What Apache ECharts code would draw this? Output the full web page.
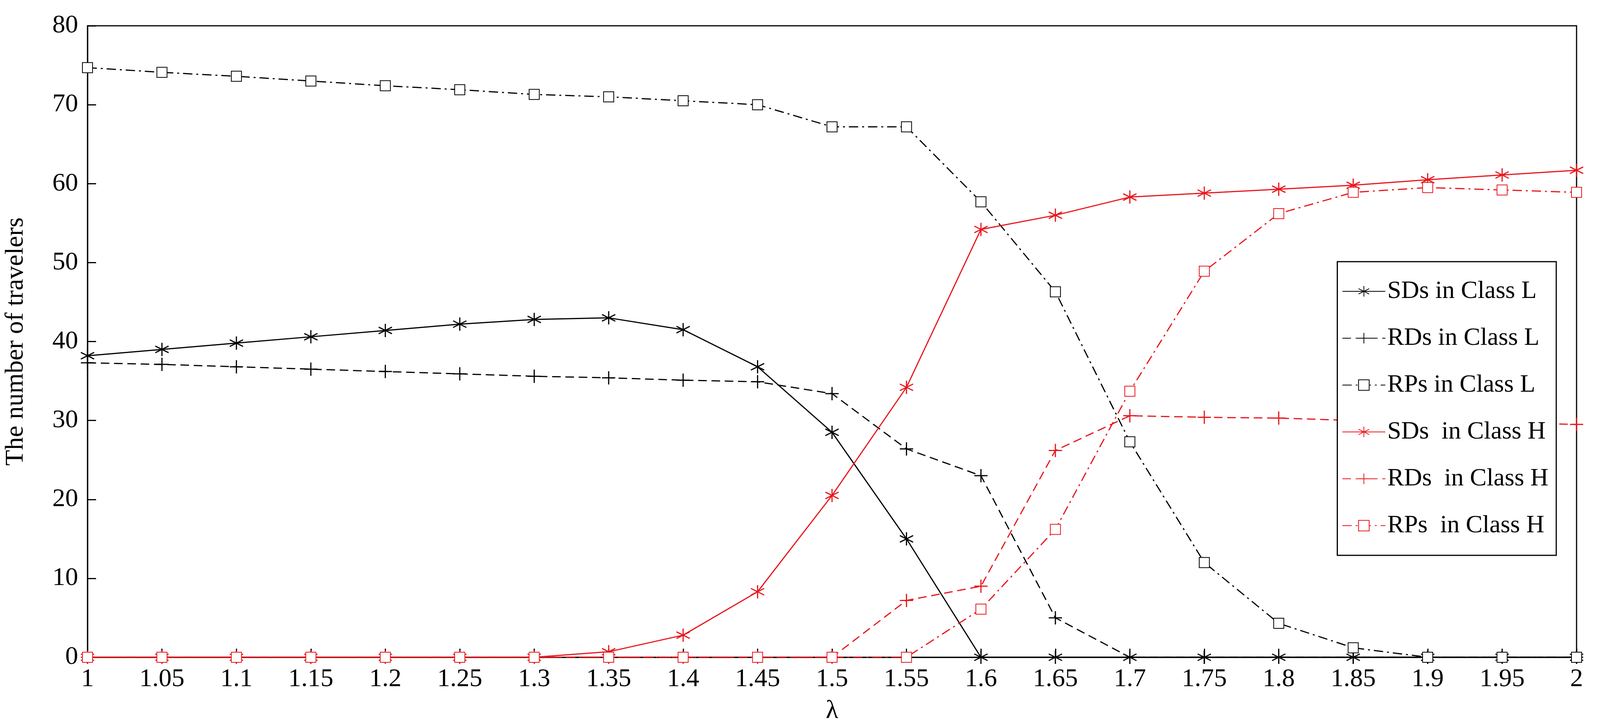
<!DOCTYPE html>
<html>
<head>
<meta charset="utf-8">
<script src="https://cdn.jsdelivr.net/npm/echarts@6/dist/echarts.min.js"></script>
<style>html,body{margin:0;padding:0;background:#fff;overflow:hidden}#chart{width:100vw;height:100vh}</style>
</head>
<body>
<div id="chart"></div>
<script>
// lambda values
var lambdas = [1, 1.05, 1.1, 1.15, 1.2, 1.25, 1.3, 1.35, 1.4, 1.45, 1.5, 1.55, 1.6, 1.65, 1.7, 1.75, 1.8, 1.85, 1.9, 1.95, 2];

var sdsL = [38.2, 39, 39.8, 40.6, 41.4, 42.2, 42.8, 43, 41.5, 36.8, 28.5, 15, 0, 0, 0, 0, 0, 0, 0, 0, 0];
var rdsL = [37.3, 37.1, 36.8, 36.5, 36.2, 35.9, 35.6, 35.4, 35.1, 34.9, 33.4, 26.4, 23, 5, 0, 0, 0, 0, 0, 0, 0];
var rpsL = [74.7, 74.1, 73.6, 73, 72.4, 71.9, 71.3, 71, 70.5, 70, 67.2, 67.2, 57.7, 46.3, 27.3, 12, 4.3, 1.2, 0, 0, 0];
var sdsH = [0, 0, 0, 0, 0, 0, 0, 0.7, 2.8, 8.3, 20.5, 34.2, 54.2, 56, 58.3, 58.8, 59.3, 59.8, 60.5, 61.1, 61.7];
var rdsH = [0, 0, 0, 0, 0, 0, 0, 0, 0, 0, 0, 7.2, 9, 26.2, 30.6, 30.4, 30.3, 30, 29.8, 29.7, 29.5];
var rpsH = [0, 0, 0, 0, 0, 0, 0, 0, 0, 0, 0, 0, 6.1, 16.2, 33.7, 48.9, 56.2, 58.9, 59.5, 59.2, 58.9];

var names = ['SDs in Class L', 'RDs in Class L', 'RPs in Class L', 'SDs  in Class H', 'RDs  in Class H', 'RPs  in Class H'];

var STAR = 'path://M0,-1V1M-0.87,-0.5L0.87,0.5M-0.87,0.5L0.87,-0.5';
var PLUS = 'path://M0,-1V1M-1,0H1';
var RED = '#e8161c';
var font = 'Liberation Serif';

var makeSeries = function (name, values, color, symbol, dash) {
  var isRect = symbol === 'rect';
  return {
    name: name,
    type: 'line',
    data: lambdas.map(function (x, i) { return [x, values[i]]; }),
    symbol: isRect ? 'emptyRect' : symbol,
    symbolSize: isRect ? 26 : 34,
    showAllSymbol: true,
    lineStyle: { color: color, width: 3, type: dash },
    itemStyle: isRect ? { color: color, borderColor: color, borderWidth: 3 } :
      { color: 'transparent', borderColor: color, borderWidth: 3 },
    emphasis: { disabled: true },
    z: color === RED ? 3 : 2
  };
};

var series = [
  makeSeries(names[0], sdsL, '#000', STAR, 'solid'),
  makeSeries(names[1], rdsL, '#000', PLUS, [22, 12]),
  makeSeries(names[2], rpsL, '#000', 'rect', [24, 10, 5, 10]),
  makeSeries(names[3], sdsH, RED, STAR, 'solid'),
  makeSeries(names[4], rdsH, RED, PLUS, [22, 12]),
  makeSeries(names[5], rpsH, RED, 'rect', [24, 10, 5, 10])
];

var option = {
  backgroundColor: '#fff',
  animation: false,
  grid: { left: 220, right: 60, top: 66, bottom: 150, show: true, borderColor: '#000', borderWidth: 3 },
  legend: {
    data: names,
    orient: 'vertical',
    right: 112,
    top: 670,
    itemWidth: 110,
    itemHeight: 34,
    itemGap: 56,
    padding: [44, 20, 44, 12],
    borderColor: '#000',
    borderWidth: 3,
    backgroundColor: '#fff',
    textStyle: { fontFamily: font, fontSize: 64, color: '#000' }
  },
  xAxis: {
    type: 'value',
    min: 1,
    max: 2,
    interval: 0.05,
    name: 'λ',
    nameLocation: 'middle',
    nameGap: 105,
    nameTextStyle: { fontFamily: font, fontSize: 66, color: '#000' },
    axisLine: { lineStyle: { color: '#000', width: 3 } },
    axisTick: { inside: true, length: 22, lineStyle: { color: '#000', width: 3 } },
    axisLabel: {
      fontFamily: font, fontSize: 66, color: '#000', margin: 24,
      formatter: function (v) { return String(parseFloat(v.toFixed(2))); }
    },
    splitLine: { show: false }
  },
  yAxis: {
    type: 'value',
    min: 0,
    max: 80,
    interval: 10,
    name: 'The number of travelers',
    nameLocation: 'middle',
    nameGap: 150,
    nameTextStyle: { fontFamily: font, fontSize: 66, color: '#000' },
    axisLine: { show: true, lineStyle: { color: '#000', width: 3 } },
    axisTick: { show: true, inside: true, length: 22, lineStyle: { color: '#000', width: 3 } },
    axisLabel: { fontFamily: font, fontSize: 66, color: '#000', margin: 24 },
    splitLine: { show: false }
  },
  series: series
};

var myChart = echarts.init(document.getElementById('chart'));
myChart.setOption(option);
window.addEventListener('resize', function () { myChart.resize(); });
</script>
</body>
</html>
